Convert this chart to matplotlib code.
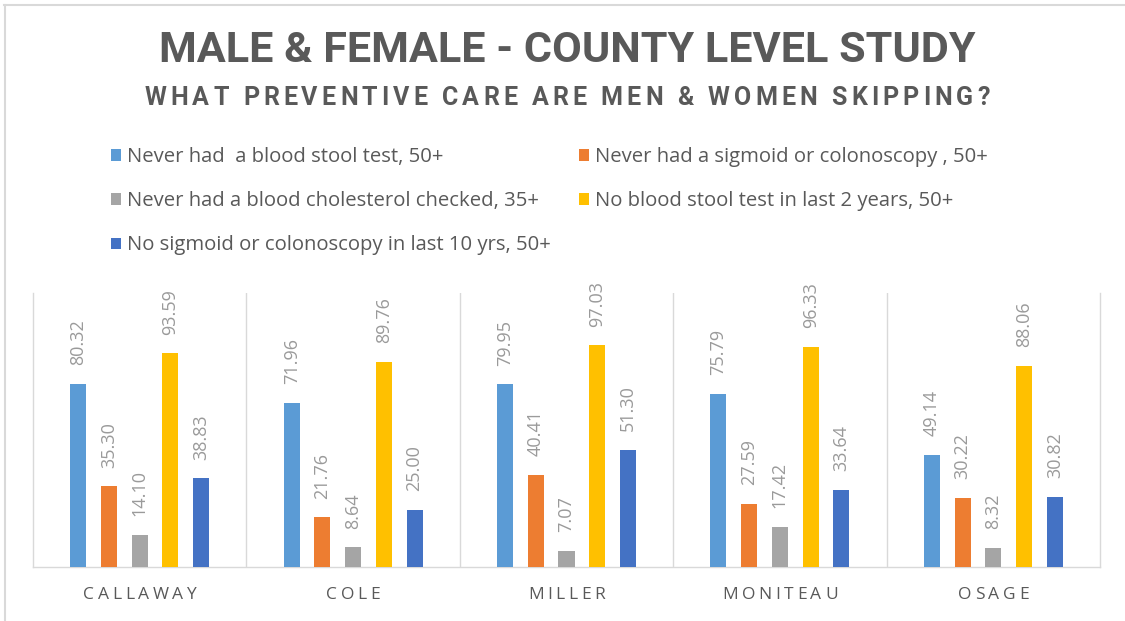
import matplotlib
matplotlib.use("Agg")
import matplotlib.pyplot as plt
from matplotlib.patches import Patch
from matplotlib.lines import Line2D
from matplotlib.font_manager import FontProperties
import numpy as np

# ---- data -------------------------------------------------------------
counties = ["CALLAWAY", "COLE", "MILLER", "MONITEAU", "OSAGE"]
series_names = [
    "Never had  a blood stool test, 50+",
    "Never had a sigmoid or colonoscopy , 50+",
    "Never had a blood cholesterol checked, 35+",
    "No blood stool test in last 2 years, 50+",
    "No sigmoid or colonoscopy in last 10 yrs, 50+",
]
never_blood_stool = [80.32, 71.96, 79.95, 75.79, 49.14]
never_sigmoid = [35.30, 21.76, 40.41, 27.59, 30.22]
never_cholesterol = [14.10, 8.64, 7.07, 17.42, 8.32]
no_stool_2yrs = [93.59, 89.76, 97.03, 96.33, 88.06]
no_sigmoid_10yrs = [38.83, 25.00, 51.30, 33.64, 30.82]
series_values = [never_blood_stool, never_sigmoid, never_cholesterol,
                 no_stool_2yrs, no_sigmoid_10yrs]
colors = ["#5B9BD5", "#ED7D31", "#A5A5A5", "#FFC000", "#4472C4"]

title = "MALE & FEMALE - COUNTY LEVEL STUDY"
subtitle = "WHAT PREVENTIVE CARE ARE MEN & WOMEN SKIPPING?"

# ---- figure -----------------------------------------------------------
W, H, DPI = 1125, 621, 100
fig = plt.figure(figsize=(W / DPI, H / DPI), dpi=DPI)
fig.patch.set_facecolor("white")
renderer = fig.canvas.get_renderer()

TEXT_DARK = "#595959"
GRID = "#D9D9D9"


def px(x, y):
    """pixel position (from top-left) -> figure fraction"""
    return x / W, 1 - y / H


def text_width(s, fp):
    w, _, _ = renderer.get_text_width_height_descent(s, fp, ismath=False)
    return w


def fit_size(s, fp, target):
    """font size that makes s span target pixels"""
    fp = fp.copy()
    base = fp.get_size_in_points()
    fp.set_size(base * target / text_width(s, fp))
    return fp


def tracked_text(s, cx, cy, fp, tracking, color):
    """Draw s centred at pixel (cx, cy) with extra letter spacing."""
    bar_w = text_width("|", fp)
    offsets = [max(text_width(s[:i] + "|", fp) - bar_w, 0) if i else 0
               for i in range(len(s))]
    total = text_width(s, fp) + tracking * (len(s) - 1)
    x0 = cx - total / 2
    for i, ch in enumerate(s):
        if ch == " ":
            continue
        fig.text(*px(x0 + offsets[i] + tracking * i, cy), ch,
                 fontproperties=fp, color=color, ha="left", va="center")


# outer frame lines
fig.add_artist(Line2D([4 / W, 1], [1 - 5 / H] * 2, transform=fig.transFigure,
                      color=GRID, lw=1.5))
fig.add_artist(Line2D([4.5 / W] * 2, [0, 1 - 5 / H], transform=fig.transFigure,
                      color=GRID, lw=1.5))

# title and subtitle
title_fp = fit_size(title, FontProperties(family="Roboto", weight="bold", size=30), 815)
fig.text(*px(567, 51), title, fontproperties=title_fp, color=TEXT_DARK,
         ha="center", va="center")
sub_fp = FontProperties(family="Roboto", weight="bold", size=18)
sub_track = (845 - text_width(subtitle, sub_fp)) / (len(subtitle) - 1)
tracked_text(subtitle, 567, 98, sub_fp, sub_track, TEXT_DARK)

# ---- axes -------------------------------------------------------------
ax_l, ax_r, ax_t, ax_b = 33, 1100, 293, 567
ax = fig.add_axes([ax_l / W, 1 - ax_b / H, (ax_r - ax_l) / W, (ax_b - ax_t) / H])
ax.set_xlim(-0.5, len(counties) - 0.5)
ax.set_ylim(0, 120)

x = np.arange(len(counties))
step, width = 0.144, 0.075
label_fp = FontProperties(family="Open Sans", size=13)
for j, (vals, col) in enumerate(zip(series_values, colors)):
    pos = x + (j - 2) * step
    bars = ax.bar(pos, vals, width=width, color=col, label=series_names[j], zorder=3)
    for b, v in zip(bars, vals):
        ax.annotate(f"{v:.2f}", (b.get_x() + b.get_width() / 2, v),
                    xytext=(0, 13.5), textcoords="offset points", rotation=90,
                    ha="center", va="bottom", color="#9A9A9A",
                    fontproperties=label_fp)

for sep in x[:-1] + 0.5:
    ax.axvline(sep, color=GRID, lw=1, zorder=1)
for side in ["left", "right", "bottom"]:
    ax.spines[side].set_color(GRID)
    ax.spines[side].set_linewidth(1)
ax.spines["top"].set_visible(False)
ax.set_xticks(x)
ax.set_xticklabels([])
ax.set_yticks([])
ax.tick_params(axis="x", length=0)

# category names with letter spacing, drawn under each group
cat_fp = FontProperties(family="Open Sans", size=12.5)
for i, name in enumerate(counties):
    cx = ax.transData.transform((i, 0))[0]
    tracked_text(name, cx, 595, cat_fp, 3.6, TEXT_DARK)

# ---- legend (row-major order in two columns) --------------------------
handles = [Patch(facecolor=c, edgecolor="none") for c in colors]
order = [0, 2, 4, 1, 3]
leg_fp = fit_size(series_names[0], FontProperties(family="Open Sans", size=14), 318)
leg = fig.legend([handles[k] for k in order], [series_names[k] for k in order],
                 ncol=2, loc="upper left", bbox_to_anchor=px(111, 147),
                 frameon=False, prop=leg_fp,
                 handlelength=0.5, handleheight=0.5, handletextpad=0.3,
                 labelspacing=1.2, columnspacing=1.4, borderpad=0,
                 borderaxespad=0)
for t in leg.get_texts():
    t.set_color(TEXT_DARK)

fig.savefig("out.png", dpi=DPI, facecolor="white")
